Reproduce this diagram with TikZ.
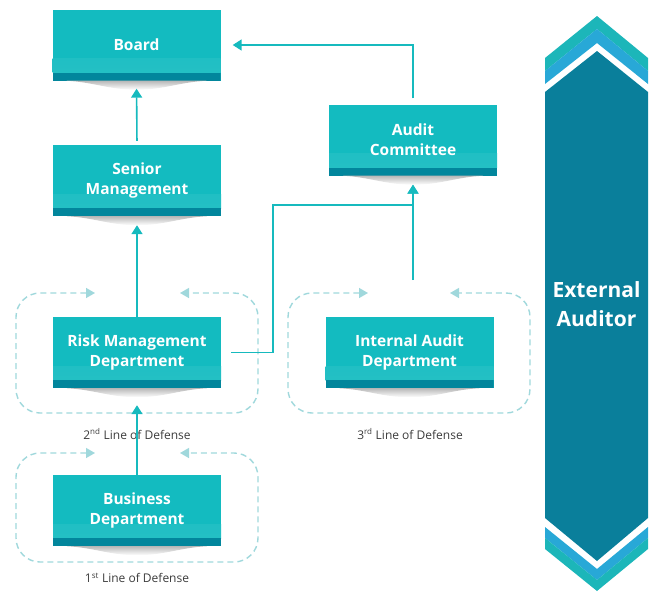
\documentclass[tikz,border=0pt]{standalone}
\usepackage{fontspec}
\setmainfont{Open Sans}
\usetikzlibrary{arrows.meta}
\definecolor{boxteal}{RGB}{19,187,192}
\definecolor{boxstripe}{RGB}{2,134,156}
\definecolor{linkteal}{RGB}{22,186,190}
\definecolor{dashteal}{RGB}{160,216,220}
\definecolor{extbody}{RGB}{10,127,155}
\definecolor{extblue}{RGB}{40,168,215}
\definecolor{extteal}{RGB}{28,182,185}
\definecolor{labelgray}{RGB}{60,60,60}
\tikzset{
 unit/.style={shape=rectangle,minimum width=168pt,minimum height=71pt,inner sep=0pt,fill=boxteal,text=white,align=center,font=\bfseries\fontsize{15.5}{20}\selectfont,
  path picture={\shade[top color=boxteal,bottom color=boxteal!92!white] ([yshift=8pt]path picture bounding box.south west) rectangle ([yshift=22pt]path picture bounding box.south east);
   \fill[boxstripe] (path picture bounding box.south west) rectangle ([yshift=8pt]path picture bounding box.south east);}},
 link/.style={draw=linkteal,line width=1.6pt,-{Triangle[width=11pt,length=9pt]}},
 defense/.style={draw=dashteal,line width=1.4pt,dash pattern=on 6pt off 4pt,rounded corners=24pt,{Triangle[width=10pt,length=9pt]}-{Triangle[width=10pt,length=9pt]}},
 lbl/.style={text=labelgray,font=\fontsize{12}{14}\selectfont}
}
\begin{document}
\begin{tikzpicture}[x=1pt,y=-1pt]
 \useasboundingbox (0,0) rectangle (651,592);
 % external auditor
 \fill[extteal] (545,58) -- (597,16) -- (648,58) -- (648,71) -- (597,29) -- (545,71) -- cycle;
 \fill[extblue] (545,71) -- (597,29) -- (648,71) -- (648,84) -- (597,43) -- (545,84) -- cycle;
 \fill[extbody] (545,92) -- (597,51) -- (648,92) -- (648,518) -- (597,561) -- (545,518) -- cycle;
 \fill[extblue] (545,527) -- (597,569) -- (648,527) -- (648,538) -- (597,580) -- (545,538) -- cycle;
 \fill[extteal] (545,538) -- (597,580) -- (648,538) -- (648,549) -- (597,591) -- (545,549) -- cycle;
 \node (ext) at (596.5,304) [text=white,align=center,font=\bfseries\fontsize{21}{29}\selectfont] {External\\Auditor};
 % boxes
 \node (box board) at (136.5,45) [unit] {Board};
 \node (box senior) at (137,180.5) [unit] {Senior\\Management};
 \node (box audit) at (413,140) [unit] {Audit\\Committee};
 \node (box risk) at (137,352.5) [unit] {Risk Management\\Department};
 \node (box internal) at (409.5,352.5) [unit] {Internal Audit\\Department};
 \node (box business) at (137,510.5) [unit] {Business\\Department};
 \foreach \b in {board,senior,audit,risk,internal,business}
  \shade[top color=black!28,bottom color=white] ([xshift=14pt]box \b.south west) to[out=-3,in=180] ([yshift=-9pt]box \b.south) to[out=0,in=183] ([xshift=-14pt]box \b.south east) -- cycle;
 % lines of defense
 \draw[defense] (95,293) -- (16,293) -- (16,413) -- (258,413) -- (258,293) -- (180,293);
 \draw[defense] (368,293) -- (288,293) -- (288,413) -- (530,413) -- (530,293) -- (450,293);
 \draw[defense] (95,453) -- (16,453) -- (16,562) -- (258,562) -- (258,453) -- (180,453);
 \node (lbl 2) at (137,434) [lbl] {2\textsuperscript{nd} Line of Defense};
 \node (lbl 3) at (410,434) [lbl] {3\textsuperscript{rd} Line of Defense};
 \node (lbl 1) at (137,578) [lbl] {1\textsuperscript{st} Line of Defense};
 % reporting lines
 \coordinate (ia top) at (413,280);
 \coordinate (rm turn) at (273,205);
 \draw[link,shorten <=4pt,shorten >=8pt] (box senior.north) -- (box board.south);
 \draw[link,shorten >=9pt] (box risk.north) -- (box senior.south);
 \draw[link,shorten >=17pt] (box business.north) -- (box risk.south);
 \draw[link,shorten >=9pt] (ia top) -- (box audit.south);
 \draw[link,shorten >=9pt] ([xshift=10pt]box risk.east) -| (rm turn) -| (box audit.south);
 \draw[link] ([yshift=6pt]box audit.north) |- ([xshift=12pt]box board.east);
\end{tikzpicture}
\end{document}
